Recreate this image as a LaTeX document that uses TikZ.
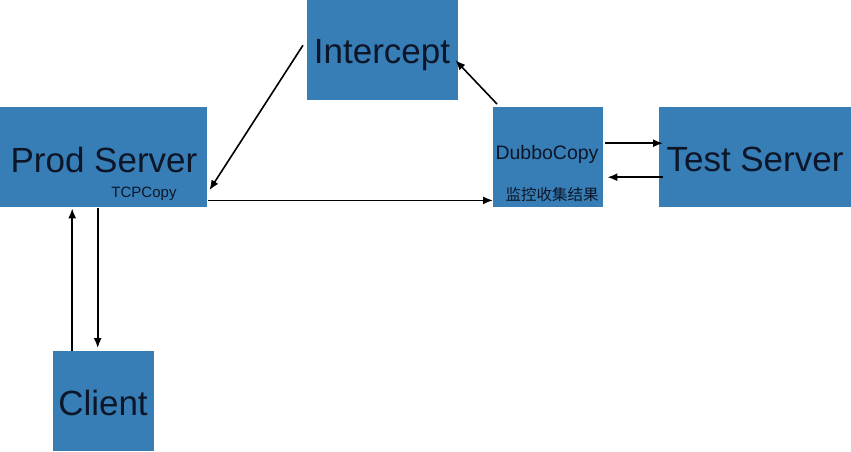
\documentclass[tikz,border=0pt]{standalone}
\usepackage{fontspec}
\usetikzlibrary{arrows.meta}
\setmainfont{Liberation Sans}
\newfontfamily\cjk{Noto Sans CJK SC}
\definecolor{boxblue}{RGB}{56,126,182}
\definecolor{ink}{RGB}{12,22,40}

\begin{document}
\begin{tikzpicture}[x=1pt,y=-1pt,
        box/.style={fill=boxblue,draw=none,inner sep=0,anchor=north west},
        big/.style={text=ink,inner sep=0,anchor=base,font=\fontsize{35}{40}\selectfont},
        small/.style={text=ink,inner sep=0,anchor=base},
        link/.style={-{Latex[length=10pt,width=8pt]},line width=1.6}]
        \useasboundingbox (0,0) rectangle (851,451);
        \draw (0,107) node[box,minimum width=207,minimum height=100] (Prod) {};
        \draw (307,0) node[box,minimum width=151,minimum height=100] (Intercept) {};
        \draw (493,107) node[box,minimum width=110,minimum height=100] (Dubbo) {};
        \draw (659,107) node[box,minimum width=192,minimum height=100] (Test) {};
        \draw (53,351) node[box,minimum width=101,minimum height=100] (Client) {};

        \draw (104,172) node[big] (ProdText) {Prod Server};
        \draw (382,63) node[big] (InterceptText) {Intercept};
        \draw (755,171) node[big] (TestText) {Test Server};
        \draw (103,415) node[big] (ClientText) {Client};
        \draw (144,197) node[small,font=\fontsize{15}{18}\selectfont] (TCP) {TCPCopy};
        \draw (547,159) node[small,font=\fontsize{19.5}{22}\selectfont] (DubboText) {DubboCopy};
        \draw (552,200) node[small,font=\cjk\fontsize{15.5}{18}\selectfont] (Monitor) {监控收集结果};

        \draw[link] ([shift={(-4,-5)}]Intercept.west) -- ([shift={(2,33)}]Prod.east);
        \draw[link] ([shift={(4,-3)}]Dubbo.north west) -- ([shift={(-3,10)}]Intercept.east);
        \draw[link] ([shift={(1,-7)}]Prod.south east) -- ([shift={(0,-7)}]Dubbo.south west);
        \draw[link] ([shift={(2,-14)}]Dubbo.east) -- ([shift={(4,-14)}]Test.west);
        \draw[link] ([shift={(4,20)}]Test.west) -- ([shift={(4,20)}]Dubbo.east);
        \draw[link] ([shift={(-31.5,0)}]Client.north) -- ([shift={(-31.5,1)}]Prod.south);
        \draw[link] ([shift={(-6,1)}]Prod.south) -- ([shift={(-6,-3)}]Client.north);
\end{tikzpicture}
\end{document}
